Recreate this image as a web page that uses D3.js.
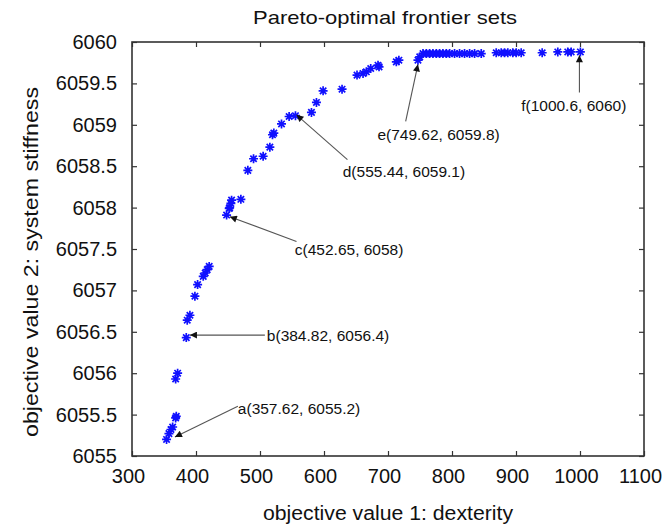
<!DOCTYPE html>
<html>
<head>
  <title>Pareto-optimal frontier sets</title>
  <script src="https://d3js.org/d3.v7.min.js"></script>
  <style>
    body { margin: 0; background: #fff; }
    text { font-family: "Liberation Sans", Arial, sans-serif; fill: #111; }
  </style>
</head>
<body>
  <svg id="chart" width="665" height="527"></svg>
  <script>
    // objective values
    const dexterity = [
      354, 357.7, 360.9, 363.5, 368.2, 369.2, 368.2, 371.3,
      384.8, 386.3, 390.5, 398.3, 402.5, 411.3, 414.4, 417.5, 420.6,
      447.8, 451.9, 452.6, 454.5, 455.6, 470.1,
      481, 489.9, 504.9, 515.4, 519.5, 521.6, 533.6, 545.5, 555.4,
      580.4, 588.2, 598.6, 628.2, 651.6, 661, 666.2, 673, 684.4, 686,
      713, 717, 746.8, 749.6, 754.7,
      759.9, 765, 770.2, 775.5, 780.6, 785.8, 791.1, 796.3, 804, 811.8,
      819.6, 827.5, 835.3, 845.7,
      869.1, 876.9, 882.1, 887.2, 895, 900.3, 908.1,
      940.9, 965.3, 980.9, 986.2, 1000.6
    ];
    const stiffness = [
      6055.2, 6055.27, 6055.32, 6055.35, 6055.46, 6055.48, 6055.93, 6056.0,
      6056.43, 6056.64, 6056.7, 6056.93, 6057.07, 6057.17, 6057.21, 6057.25, 6057.29,
      6057.91, 6057.99, 6058.0, 6058.05, 6058.09, 6058.1,
      6058.45, 6058.59, 6058.62, 6058.73, 6058.88, 6058.9, 6059.01, 6059.1, 6059.11,
      6059.15, 6059.27, 6059.41, 6059.43, 6059.6, 6059.62, 6059.64, 6059.68, 6059.72, 6059.7,
      6059.76, 6059.78, 6059.78, 6059.82, 6059.86,
      6059.86, 6059.86, 6059.86, 6059.86, 6059.86, 6059.86, 6059.86, 6059.86, 6059.86, 6059.86,
      6059.86, 6059.86, 6059.86, 6059.86,
      6059.87, 6059.87, 6059.87, 6059.87, 6059.87, 6059.87, 6059.87,
      6059.87, 6059.88, 6059.88, 6059.88, 6059.88
    ];
    const xTicks = [300, 400, 500, 600, 700, 800, 900, 1000, 1100];
    const yTicks = [6055, 6055.5, 6056, 6056.5, 6057, 6057.5, 6058, 6058.5, 6059, 6059.5, 6060];

    // annotations: label, text anchor, arrow tail and arrow head (data units)
    const noteLabels = ["a(357.62, 6055.2)", "b(384.82, 6056.4)", "c(452.65, 6058)",
                        "d(555.44, 6059.1)", "e(749.62, 6059.8)", "f(1000.6, 6060)"];
    const noteText = [[465.4, 6055.57], [510.7, 6056.46], [554.4, 6057.49],
                      [629.3, 6058.44], [683.4, 6058.88], [908.1, 6059.23]];
    const noteTail = [[465.4, 6055.6], [507.6, 6056.46], [557, 6057.59],
                      [636.6, 6058.58], [727.6, 6059.04], [999.1, 6059.39]];
    const noteHead = [[367.1, 6055.23], [390.5, 6056.46], [452.9, 6057.89],
                      [557, 6059.12], [746.8, 6059.73], [999.1, 6059.84]];

    const svg = d3.select("#chart");
    const margin = { top: 42, right: 21, bottom: 71, left: 132 };
    const width = 665 - margin.left - margin.right,
          height = 527 - margin.top - margin.bottom;

    const x = d3.scaleLinear().domain([300, 1100]).range([0, width]);
    const y = d3.scaleLinear().domain([6055, 6060]).range([height, 0]);

    const g = svg.append("g").attr("transform", `translate(${margin.left},${margin.top})`);

    // arrowhead marker
    svg.append("defs").append("marker")
      .attr("id", "head")
      .attr("viewBox", "0 -5 10 10")
      .attr("refX", 10).attr("refY", 0)
      .attr("markerWidth", 9).attr("markerHeight", 7)
      .attr("markerUnits", "userSpaceOnUse")
      .attr("orient", "auto")
      .append("path").attr("d", "M0,-5L10,0L0,5Z").attr("fill", "#111");

    // axes with ticks pointing inward, box on
    const tk = 5;
    const axBottom = g.append("g").attr("transform", `translate(0,${height})`)
      .call(d3.axisBottom(x).tickValues(xTicks).tickSizeInner(-tk).tickSizeOuter(0).tickPadding(13)
        .tickFormat(d3.format("d")));
    const axTop = g.append("g")
      .call(d3.axisTop(x).tickValues(xTicks).tickSizeInner(-tk).tickSizeOuter(0).tickFormat(""));
    const axLeft = g.append("g")
      .call(d3.axisLeft(y).tickValues(yTicks).tickSizeInner(-tk).tickSizeOuter(0).tickPadding(15)
        .tickFormat(d3.format("")));
    const axRight = g.append("g").attr("transform", `translate(${width},0)`)
      .call(d3.axisRight(y).tickValues(yTicks).tickSizeInner(-tk).tickSizeOuter(0).tickFormat(""));

    [axBottom, axTop, axLeft, axRight].forEach(a => {
      a.select(".domain").remove();
      a.selectAll(".tick line").attr("stroke", "#333").attr("stroke-width", 1.2);
      a.selectAll(".tick text").attr("font-size", 20).attr("fill", "#111")
        .attr("font-family", "Liberation Sans, Arial, sans-serif");
    });
    axBottom.selectAll(".tick text").attr("dx", -4);

    g.append("rect")
      .attr("width", width).attr("height", height)
      .attr("fill", "none").attr("stroke", "#333").attr("stroke-width", 1.6);

    // data markers (MATLAB style '*')
    const pts = dexterity.map((d, i) => [d, stiffness[i]]);
    const star = "M-4.5,0H4.5M0,-4.5V4.5M-3.2,-3.2L3.2,3.2M-3.2,3.2L3.2,-3.2";
    g.selectAll(".pt").data(pts).enter().append("path")
      .attr("class", "pt")
      .attr("transform", d => `translate(${x(d[0])},${y(d[1])})`)
      .attr("d", star)
      .attr("stroke", "#1010ff").attr("stroke-width", 1.7).attr("fill", "none");

    // annotation arrows and labels
    noteLabels.forEach((lab, i) => {
      g.append("line")
        .attr("x1", x(noteTail[i][0])).attr("y1", y(noteTail[i][1]))
        .attr("x2", x(noteHead[i][0])).attr("y2", y(noteHead[i][1]))
        .attr("stroke", "#555").attr("stroke-width", 1.1)
        .attr("marker-end", "url(#head)");
      g.append("text")
        .attr("x", x(noteText[i][0])).attr("y", y(noteText[i][1]))
        .attr("dy", "0.35em")
        .attr("font-size", 15.5)
        .text(lab);
    });

    // titles
    svg.append("text")
      .attr("x", 385).attr("y", 24)
      .attr("text-anchor", "middle").attr("font-size", 19)
      .attr("textLength", 264).attr("lengthAdjust", "spacingAndGlyphs")
      .text("Pareto-optimal frontier sets");

    svg.append("text")
      .attr("x", 388).attr("y", 520)
      .attr("text-anchor", "middle").attr("font-size", 20)
      .attr("textLength", 250).attr("lengthAdjust", "spacingAndGlyphs")
      .text("objective value 1: dexterity");

    svg.append("text")
      .attr("transform", `translate(38,262) rotate(-90)`)
      .attr("text-anchor", "middle").attr("font-size", 20)
      .attr("textLength", 350).attr("lengthAdjust", "spacingAndGlyphs")
      .text("objective value 2: system stiffness");
  </script>
</body>
</html>
